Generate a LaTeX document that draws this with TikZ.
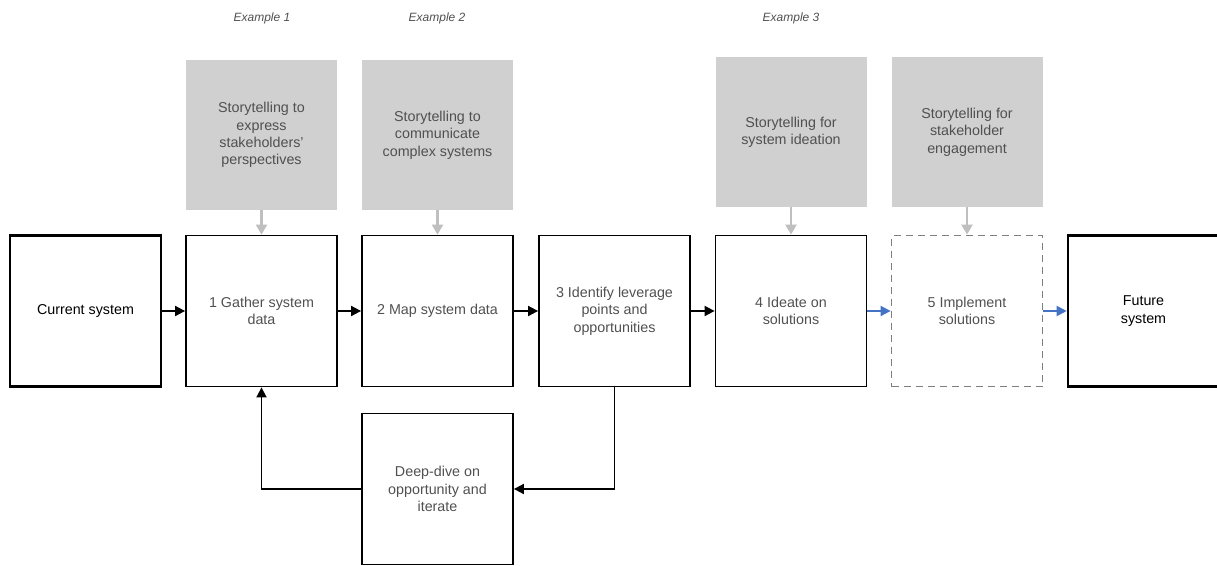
\documentclass[tikz,border=0pt]{standalone}
\usepackage{fontspec}
\setmainfont{Liberation Sans}
\usetikzlibrary{arrows.meta}
\definecolor{boxgray}{HTML}{D0D0D0}
\definecolor{linkgray}{HTML}{BFBFBF}
\definecolor{textgray}{HTML}{505050}
\definecolor{dashgray}{HTML}{7F7F7F}
\definecolor{flowblue}{HTML}{4472C4}
\tikzset{
  stagebox/.style={draw=black,line width=1.8pt,minimum width=151pt,minimum height=151pt,inner sep=0pt,align=center,text=textgray,font=\fontsize{14.3}{17.3}\selectfont},
  endbox/.style={stagebox,line width=2.6pt,text=black},
  planbox/.style={stagebox,draw=dashgray,dash pattern=on 7pt off 5pt},
  storybox/.style={fill=boxgray,minimum width=151pt,minimum height=150pt,inner sep=0pt,align=center,text=textgray,font=\fontsize{14.3}{17.3}\selectfont},
  exlabel/.style={text=textgray,font=\fontsize{12}{14}\selectfont\itshape},
  flow/.style={draw=black,line width=1.8pt,-{Triangle[length=10pt,width=10pt]}},
  blueflow/.style={flow,draw=flowblue,-{Triangle[length=10pt,width=10pt,fill=flowblue]}},
  greyflow/.style={draw=linkgray,line width=2.2pt,-{Triangle[length=10pt,width=11pt,fill=linkgray]}}
}
\begin{document}
\begin{tikzpicture}[x=1pt,y=-1pt]
    \useasboundingbox (0,0) rectangle (1217,565);
    \node[exlabel] (ex1) at (262,18) {Example 1};
    \node[exlabel] (ex2) at (437,18) {Example 2};
    \node[exlabel] (ex3) at (791,18) {Example 3};
    \node[storybox] (story1) at (261.5,135) {Storytelling to\\express\\stakeholders'\\perspectives};
    \node[storybox] (story2) at (437.5,135) {Storytelling to\\communicate\\complex systems};
    \node[storybox] (story4) at (791,132) {Storytelling for\\system ideation};
    \node[storybox] (story5) at (967,132) {Storytelling for\\stakeholder\\engagement};
    \node[endbox] (current) at (85.5,311) {Current system};
    \node[stagebox] (gather) at (261.5,311) {1 Gather system\\data};
    \node[stagebox] (map) at (437.5,311) {2 Map system data};
    \node[stagebox] (identify) at (614.5,311) {3 Identify leverage\\points and\\opportunities};
    \node[stagebox] (ideate) at (791,311) {4 Ideate on\\solutions};
    \node[planbox] (implement) at (967,311) {5 Implement\\solutions};
    \node[endbox] (future) at (1143.5,311) {Future\\system};
    \node[stagebox] (deepdive) at (437.5,489) {Deep-dive on\\opportunity and\\iterate};
    \draw[greyflow] (story1) -- (gather);
    \draw[greyflow] (story2) -- (map);
    \draw[greyflow] (story4) -- (ideate);
    \draw[greyflow] (story5) -- (implement);
    \draw[flow] (current) -- (gather);
    \draw[flow] (gather) -- (map);
    \draw[flow] (map) -- (identify);
    \draw[flow] (identify) -- (ideate);
    \draw[blueflow] (ideate) -- (implement);
    \draw[blueflow] (implement) -- (future);
    \draw[flow] (identify.south) |- (deepdive.east);
    \draw[flow] (deepdive.west) -| (gather.south);
\end{tikzpicture}
\end{document}
